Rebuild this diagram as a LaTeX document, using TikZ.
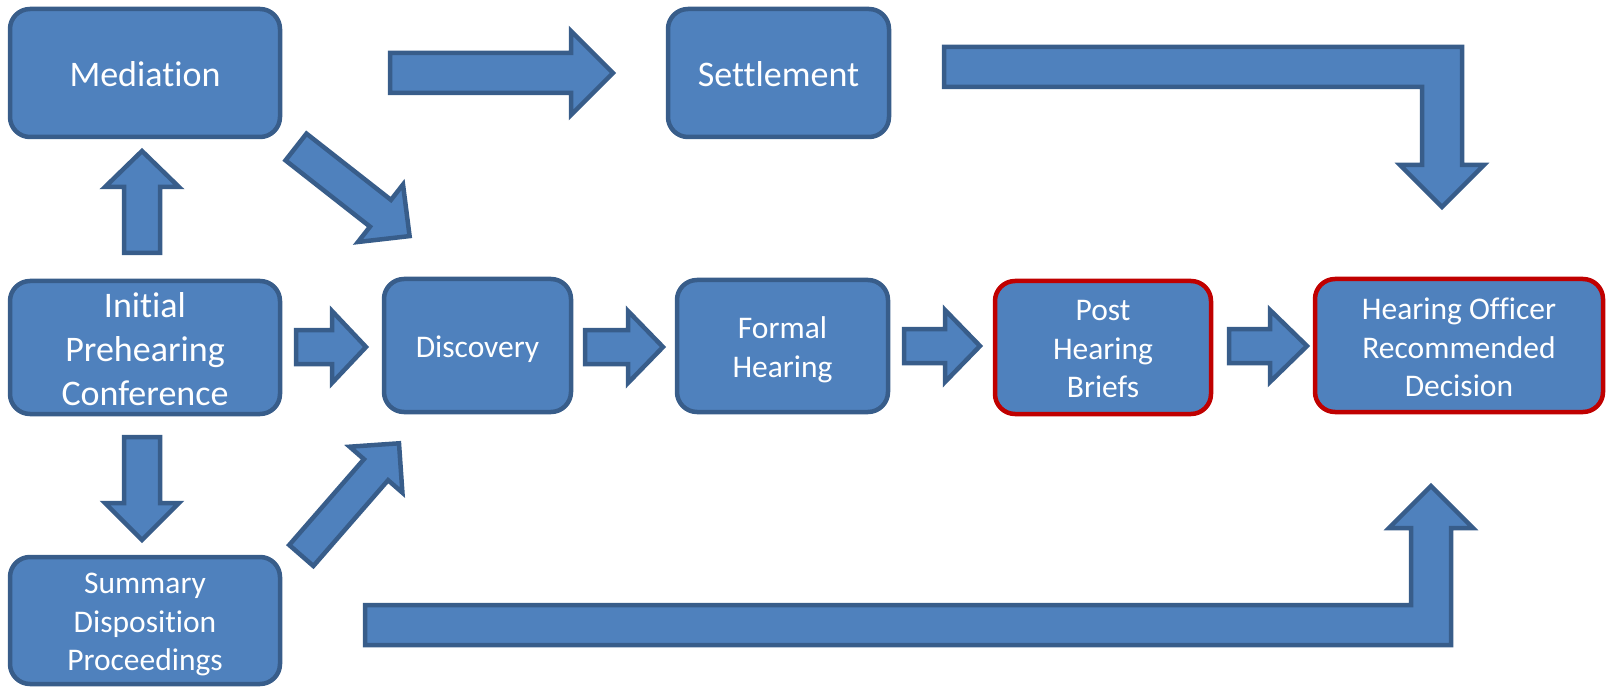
\documentclass[tikz,border=0pt]{standalone}
\usepackage{fontspec}
\setmainfont{Carlito}[Ligatures=NoCommon]
\usetikzlibrary{calc}
\definecolor{boxfill}{HTML}{4F81BD}
\definecolor{boxline}{HTML}{385D8A}
\definecolor{redline}{HTML}{C00000}
\tikzset{
  box/.style={draw=boxline, fill=boxfill, line width=4.5pt, rounded corners=20pt,
    inner sep=0pt},
  redbox/.style={box, draw=redline},
  txt/.style={text=white, align=center, inner sep=0pt},
  bigtext/.style={txt, font=\fontsize{36}{44}\selectfont},
  smalltext/.style={txt, font=\fontsize{31.5}{38.5}\selectfont},
  arr/.style={draw=boxline, fill=boxfill, line width=4.5pt, line join=miter},
}
% block arrow: tail coord, tip coord, shaft half width, head half width, head length
\newcommand{\blockarr}[5]{%
  \coordinate (hb) at ($(#2)!#5!(#1)$);
  \draw[arr] ($(#1)!#3!90:(#2)$) -- ($(hb)!#3!90:(#2)$) -- ($(hb)!#4!90:(#2)$)
    -- (#2) -- ($(hb)!#4!-90:(#2)$) -- ($(hb)!#3!-90:(#2)$) -- ($(#1)!#3!-90:(#2)$) -- cycle;
}
\begin{document}
\begin{tikzpicture}[x=1pt,y=-1pt]
\useasboundingbox (0,0) rectangle (1610,687);

% boxes
\node[box, minimum width=270pt, minimum height=128pt,
  label={[bigtext, yshift=-1pt]center:Mediation}] (med) at (145,73) {};
\node[box, minimum width=221pt, minimum height=128pt,
  label={[bigtext, yshift=-1pt]center:Settlement}] (set) at (778.5,73) {};
\node[box, minimum width=270pt, minimum height=133pt,
  label={[bigtext, yshift=-2pt]center:{Initial\\Prehearing\\Conference}}] (ini) at (145,347.5) {};
\node[box, minimum width=187pt, minimum height=133pt,
  label={[smalltext, yshift=-4pt]center:Discovery}] (dis) at (477.5,345.5) {};
\node[box, minimum width=211pt, minimum height=132pt,
  label={[smalltext, yshift=-4pt]center:{Formal\\Hearing}}] (for) at (782.5,346) {};
\node[redbox, minimum width=216pt, minimum height=133pt,
  label={[smalltext, yshift=-2pt]center:{Post\\Hearing\\Briefs}}] (pos) at (1103,347.5) {};
\node[redbox, minimum width=288pt, minimum height=133pt,
  label={[smalltext, yshift=-2pt]center:{Hearing Officer\\Recommended\\Decision}}] (hor) at (1459,345.5) {};
\node[box, minimum width=270pt, minimum height=127pt,
  label={[smalltext, yshift=-4pt]center:{Summary\\Disposition\\Proceedings}}] (sum) at (145,620.5) {};

% arrow end points
\coordinate (a1t) at (390,73);   \coordinate (a1h) at (613,73);
\coordinate (a2t) at (142,253);  \coordinate (a2h) at (142,151);
\coordinate (a3t) at (142,437);  \coordinate (a3h) at (142,540);
\coordinate (a4t) at (296,147);  \coordinate (a4h) at (409.6,236.1);
\coordinate (a5t) at (301.3,555.5); \coordinate (a5h) at (399,443.3);
\coordinate (a6t) at (296,347);  \coordinate (a6h) at (366,347);
\coordinate (a7t) at (585,347);  \coordinate (a7h) at (663,347);
\coordinate (a8t) at (904,346);  \coordinate (a8h) at (980,346);
\coordinate (a9t) at (1229,346); \coordinate (a9h) at (1307,346);

\blockarr{a1t}{a1h}{20pt}{42pt}{42pt}
\blockarr{a2t}{a2h}{18pt}{37pt}{36pt}
\blockarr{a3t}{a3h}{18pt}{37pt}{37pt}
\blockarr{a4t}{a4h}{17pt}{36.5pt}{37pt}
\blockarr{a5t}{a5h}{16pt}{35pt}{35pt}
\blockarr{a6t}{a6h}{17pt}{36pt}{34pt}
\blockarr{a7t}{a7h}{17pt}{36pt}{35pt}
\blockarr{a8t}{a8h}{17pt}{36pt}{35pt}
\blockarr{a9t}{a9h}{17pt}{36pt}{37pt}

% bent arrow: Settlement -> Hearing Officer
\draw[arr] (944,47) -- (1462,47) -- (1462,165) -- (1484,165) -- (1442,207)
  -- (1400,165) -- (1422,165) -- (1422,87) -- (944,87) -- cycle;
% bent arrow: Summary -> Hearing Officer
\draw[arr] (365,605) -- (1411,605) -- (1411,528) -- (1389,528) -- (1431,486)
  -- (1473,528) -- (1451,528) -- (1451,645) -- (365,645) -- cycle;
\end{tikzpicture}
\end{document}
